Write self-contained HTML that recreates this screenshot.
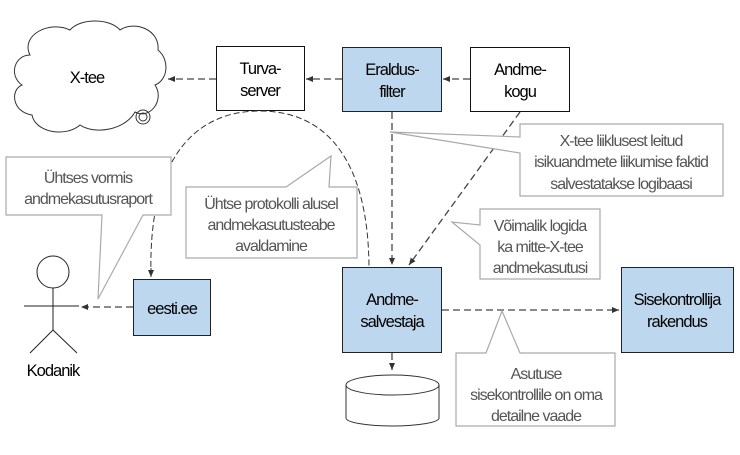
<!DOCTYPE html>
<html><head><meta charset="utf-8"><style>
body{margin:0;background:#fff}
svg text{font-family:"Liberation Sans",Arial,sans-serif;font-size:16.5px;letter-spacing:-1px}
.g text{fill:#555;font-size:16px}
</style></head><body>
<svg width="740" height="450" viewBox="0 0 740 450" xmlns="http://www.w3.org/2000/svg">
<defs>
<marker id="a" markerWidth="8" markerHeight="8" refX="7" refY="4" orient="auto" markerUnits="userSpaceOnUse"><path d="M0,1 L7,4 L0,7 z" fill="#333"/></marker>
</defs>
<path d="M30,55 C20,35 50,20 70,30 C80,18 110,18 120,30 C135,20 160,30 158,50 C170,60 168,80 155,85 C165,100 150,120 135,112 C125,130 95,135 80,125 C65,138 35,132 32,115 C12,112 10,90 22,85 C8,75 15,55 30,55 Z" fill="#fff" stroke="#333" stroke-width="1"/>
<circle cx="143" cy="117" r="7" fill="none" stroke="#333"/><circle cx="143" cy="117" r="4" fill="none" stroke="#333"/>
<text x="87" y="83" text-anchor="middle">X-tee</text>
<rect x="216.5" y="46.5" width="88" height="64" fill="#fff" stroke="#111"/>
<text x="260" y="74" text-anchor="middle">Turva-</text><text x="260" y="96" text-anchor="middle">server</text>
<rect x="342.5" y="47.5" width="99" height="64" fill="#bdd7ee" stroke="#222"/>
<text x="392" y="75" text-anchor="middle">Eraldus-</text><text x="392" y="97" text-anchor="middle">filter</text>
<rect x="470.5" y="47.5" width="99" height="64" fill="#fff" stroke="#111"/>
<text x="520" y="75" text-anchor="middle">Andme-</text><text x="520" y="97" text-anchor="middle">kogu</text>
<rect x="342.5" y="267.5" width="99" height="85" fill="#bdd7ee" stroke="#222"/>
<text x="392" y="305" text-anchor="middle">Andme-</text><text x="392" y="327" text-anchor="middle">salvestaja</text>
<rect x="621.5" y="267.5" width="112" height="85" fill="#bdd7ee" stroke="#222"/>
<text x="677" y="305" text-anchor="middle">Sisekontrollija</text><text x="677" y="327" text-anchor="middle">rakendus</text>
<rect x="133.5" y="279.5" width="77" height="56" fill="#bdd7ee" stroke="#222"/>
<text x="172" y="314" text-anchor="middle">eesti.ee</text>
<path d="M346,385 L346,418 A46.5,8 0 0 0 439,418 L439,385" fill="#fff" stroke="#333"/>
<ellipse cx="392.5" cy="385" rx="46.5" ry="10" fill="#fff" stroke="#333"/>
<circle cx="53" cy="272" r="16" fill="none" stroke="#222"/>
<path d="M53,288 V330 M24,306 H79 M53,330 L30,353 M53,330 L77,353" stroke="#222" fill="none"/>
<text x="53" y="376" text-anchor="middle">Kodanik</text>
<g stroke="#444" stroke-width="1.3" stroke-dasharray="7,4" fill="none">
<path d="M216,79 H168" marker-end="url(#a)"/>
<path d="M342,79 H306" marker-end="url(#a)"/>
<path d="M470,79 H443" marker-end="url(#a)"/>
<path d="M392,112 V265" marker-end="url(#a)"/>
<path d="M520,112 L409,265" marker-end="url(#a)"/>
<path d="M392,353 V370" marker-end="url(#a)"/>
<path d="M442,310 H619" marker-end="url(#a)"/>
<path d="M133,307 H81" marker-end="url(#a)"/>
</g>
<g stroke="#333" stroke-width="1" stroke-dasharray="6,3" fill="none">
<path d="M151,276 C148,165 190,111 260,111 C330,111 368,165 369,266"/>
</g>
<path d="M151,268 L151,277" stroke="#333" marker-end="url(#a)"/>
<g fill="#fff" stroke="#aaa" stroke-width="1.2">
<path d="M520,124 H723 V196 H520 V153 L390,132 L520,137 Z"/>
<path d="M480,209 H600 V279 H480 V245 L452,222 L480,225 Z"/>
<path d="M456,353 H486 L502,311 L520,353 H615 V426 H456 Z"/>
<path d="M186,187 H286 L331,156 L329,187 H357 V258 H186 Z"/>
<path d="M6,157 H171 V215 H143 L98,299 L102,215 H6 Z"/>
</g>
<g class="g">
<text x="621" y="146" text-anchor="middle">X-tee liiklusest leitud</text>
<text x="621" y="167" text-anchor="middle">isikuandmete liikumise faktid</text>
<text x="621" y="189" text-anchor="middle">salvestatakse logibaasi</text>
<text x="540" y="231" text-anchor="middle">Võimalik logida</text>
<text x="540" y="252" text-anchor="middle">ka mitte-X-tee</text>
<text x="540" y="273" text-anchor="middle">andmekasutusi</text>
<text x="536" y="379" text-anchor="middle">Asutuse</text>
<text x="536" y="400" text-anchor="middle">sisekontrollile on oma</text>
<text x="536" y="421" text-anchor="middle">detailne vaade</text>
<text x="271" y="209" text-anchor="middle">Ühtse protokolli alusel</text>
<text x="271" y="230" text-anchor="middle">andmekasutusteabe</text>
<text x="271" y="251" text-anchor="middle">avaldamine</text>
<text x="88" y="183" text-anchor="middle">Ühtses vormis</text>
<text x="88" y="204" text-anchor="middle">andmekasutusraport</text>
</g>
</svg>
</body></html>
